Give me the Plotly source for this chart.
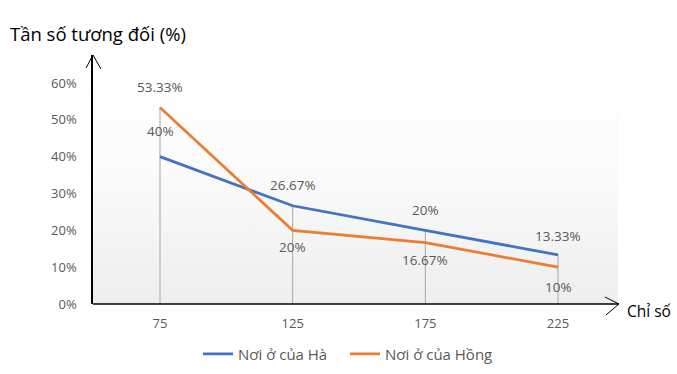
import plotly.graph_objects as go

categories = [75, 125, 175, 225]
ha_values = [40, 26.67, 20, 13.33]
hong_values = [53.33, 20, 16.67, 10]
ha_labels = ["40%", "26.67%", "20%", "13.33%"]
hong_labels = ["53.33%", "20%", "16.67%", "10%"]
y_ticks = [0, 10, 20, 30, 40, 50, 60]
y_tick_labels = ["0%", "10%", "20%", "30%", "40%", "50%", "60%"]

BLUE = "#4472C4"
ORANGE = "#ED7D31"
GREY_TXT = "#595959"
FONT = "Open Sans"

XR = [49.75, 247.6]
YR = [0, 67.6]

fig = go.Figure()

# gradient plot background
fig.add_trace(go.Scatter(
    x=[XR[0], XR[1], XR[1], XR[0], XR[0]],
    y=[YR[0], YR[0], YR[1], YR[1], YR[0]],
    mode="lines", line=dict(width=0), fill="toself",
    fillgradient=dict(type="vertical", colorscale=[[0, "#eeeeee"], [0.55, "#fbfbfb"], [1, "#ffffff"]]),
    hoverinfo="skip", showlegend=False,
))

# drop lines
dx, dy = [], []
for c, a, b in zip(categories, ha_values, hong_values):
    dx += [c, c, None]
    dy += [0, max(a, b), None]
fig.add_trace(go.Scatter(x=dx, y=dy, mode="lines", line=dict(color="#a6a6a6", width=1),
                         hoverinfo="skip", showlegend=False))

fig.add_trace(go.Scatter(x=categories, y=ha_values, mode="lines", name="Nơi ở của Hà",
                         line=dict(color=BLUE, width=2.75)))
fig.add_trace(go.Scatter(x=categories, y=hong_values, mode="lines", name="Nơi ở của Hồng",
                         line=dict(color=ORANGE, width=2.75)))

ha_shift = [26, 21, 20, 19]
hong_shift = [21, -17, -17, -20]
for c, v, t, s in zip(categories, ha_values, ha_labels, ha_shift):
    fig.add_annotation(x=c, y=v, text=t, showarrow=False, yshift=s,
                       font=dict(family=FONT, size=13.5, color=GREY_TXT))
for c, v, t, s in zip(categories, hong_values, hong_labels, hong_shift):
    fig.add_annotation(x=c, y=v, text=t, showarrow=False, yshift=s,
                       font=dict(family=FONT, size=13.5, color=GREY_TXT))

# axis titles
fig.add_annotation(xref="paper", yref="paper", x=-85/525, y=1 + 22/249, xanchor="left", yanchor="middle",
                   text="Tần số tương đối (%)", showarrow=False,
                   font=dict(family=FONT, size=18.5, color="black"))
fig.add_annotation(xref="paper", yref="paper", x=1 + 7/525, y=-7/249, xanchor="left", yanchor="middle",
                   text="Chỉ số", showarrow=False,
                   font=dict(family=FONT, size=15.5, color="black"))

# arrow heads (paper coords: plot area 525 x 249 px)
def px(xp, yp):
    return ((xp - 93) / 525, (304 - yp) / 249)

def path(points):
    s = ""
    for i, (a, b) in enumerate(points):
        X, Y = px(a, b)
        s += ("M" if i == 0 else "L") + f"{X:.5f},{Y:.5f} "
    return s

fig.add_shape(type="path", xref="paper", yref="paper",
              path=path([(86, 68), (93, 55), (101, 69)]), line=dict(color="black", width=1))
fig.add_shape(type="path", xref="paper", yref="paper",
              path=path([(93, 304), (619, 304)]), line=dict(color="black", width=1.5))
fig.add_shape(type="path", xref="paper", yref="paper",
              path=path([(605, 297), (619, 304), (606, 315)]), line=dict(color="black", width=1))

fig.update_layout(
    width=677, height=374,
    margin=dict(l=93, r=59, t=55, b=70, autoexpand=False),
    paper_bgcolor="white", plot_bgcolor="white",
    font=dict(family=FONT, color=GREY_TXT),
    showlegend=True,
    legend=dict(orientation="h", x=0.48, xanchor="center", y=-50/249, yanchor="middle",
                entrywidth=102, entrywidthmode="pixels",
                font=dict(family=FONT, size=15, color=GREY_TXT)),
    xaxis=dict(range=XR, tickvals=categories, ticktext=[str(c) for c in categories],
               showgrid=False, zeroline=False, showline=False,
               ticks="", tickfont=dict(family=FONT, size=13, color=GREY_TXT),
               ticklabelstandoff=10, fixedrange=True),
    yaxis=dict(range=YR, tickvals=y_ticks, ticktext=y_tick_labels,
               showgrid=True, gridcolor="#d9d9d9", gridwidth=1, zeroline=False,
               showline=True, linecolor="black", linewidth=1.5,
               ticks="", tickfont=dict(family=FONT, size=13, color=GREY_TXT),
               ticklabelstandoff=12, fixedrange=True),
)

fig.write_html("out.html", config={"displayModeBar": False},
               post_script="document.body.style.margin='0';document.body.style.overflow='hidden';")
